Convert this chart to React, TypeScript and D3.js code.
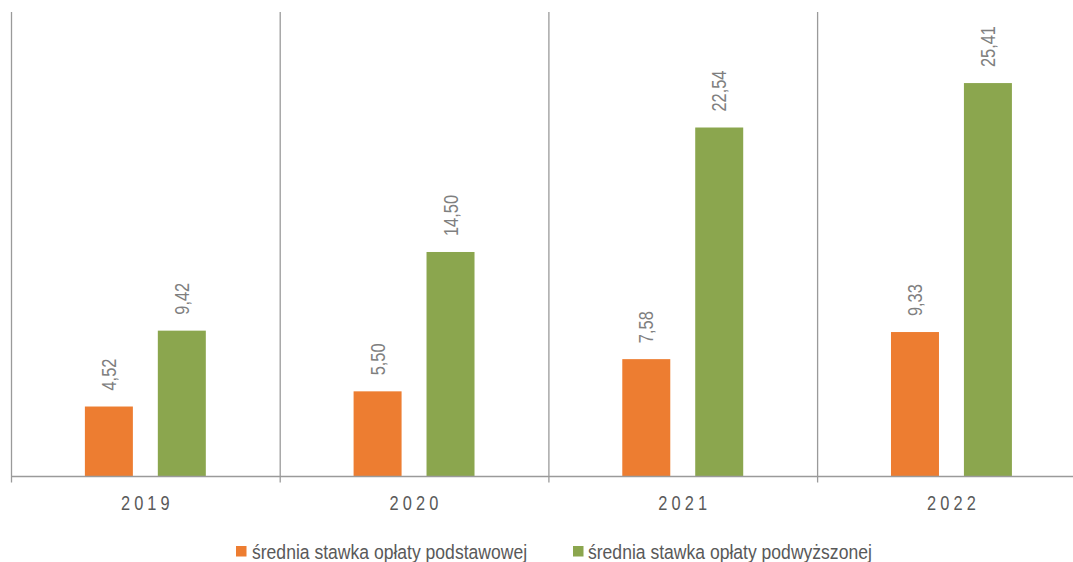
import React from "react";
import * as d3 from "d3";

const years = ["2019", "2020", "2021", "2022"];
const seriesNames = [
  "średnia stawka opłaty podstawowej",
  "średnia stawka opłaty podwyższonej",
];
const basicRate = [4.52, 5.5, 7.58, 9.33];
const raisedRate = [9.42, 14.5, 22.54, 25.41];
const seriesColors = ["#ED7D31", "#8BA64E"];

const W = 1073;
const H = 562;
const FONT = "'Liberation Sans', Arial, sans-serif";
// horizontal compression giving a condensed look to the sans face
const NARROW = 0.82;

const fmt = (v: number) => v.toFixed(2).replace(".", ",");

export default function App() {
  const x0 = d3.scaleBand<string>().domain(years).range([11, 11 + 4 * 268.7]);
  const x1 = d3
    .scaleBand<number>()
    .domain([0, 1])
    .range([0, x0.bandwidth()])
    .paddingInner(0.342)
    .paddingOuter(1.013);
  const y = d3.scaleLinear().domain([0, 30]).range([476.5, 12]);
  const values = [basicRate, raisedRate];
  const base = y(0);

  const legendItems = [
    { sx: 236, tx: 252 },
    { sx: 573, tx: 588 },
  ];

  return (
    <div style={{ position: "absolute", left: 0, top: 0 }}>
      <svg width={W} height={H} style={{ display: "block" }}>
        <rect width={W} height={H} fill="#fff" />
        {/* category separators */}
        {years.map((yr) => (
          <line
            key={"sep" + yr}
            x1={x0(yr)! + 0.5}
            x2={x0(yr)! + 0.5}
            y1={y(30)}
            y2={base + 6}
            stroke="#9a9a9a"
            strokeWidth={1.3}
          />
        ))}
        {/* bars */}
        {years.map((yr, i) =>
          values.map((vals, s) => {
            const bx = x0(yr)! + x1(s)!;
            return (
              <rect
                key={yr + s}
                x={bx}
                y={y(vals[i])}
                width={x1.bandwidth()}
                height={base - y(vals[i])}
                fill={seriesColors[s]}
              />
            );
          })
        )}
        {/* value labels */}
        {years.map((yr, i) =>
          values.map((vals, s) => {
            const cx = x0(yr)! + x1(s)! + x1.bandwidth() / 2;
            const ty = y(vals[i]) - 16;
            return (
              <text
                key={"l" + yr + s}
                transform={`translate(${cx + 7},${ty}) rotate(-90) scale(${NARROW},1)`}
                fontFamily={FONT}
                fontSize={20}
                fill="#7f7f7f"
              >
                {fmt(vals[i])}
              </text>
            );
          })
        )}
        {/* baseline */}
        <line x1={11} x2={W} y1={base} y2={base} stroke="#9a9a9a" strokeWidth={1.3} />
        {/* year labels */}
        {years.map((yr) => (
          <text
            key={"y" + yr}
            transform={`translate(${x0(yr)! + x0.bandwidth() / 2 + 2},510) scale(${NARROW},1)`}
            textAnchor="middle"
            fontFamily={FONT}
            fontSize={20}
            letterSpacing={5}
            fill="#595959"
          >
            {yr}
          </text>
        ))}
        {/* legend */}
        {seriesNames.map((name, s) => (
          <g key={"lg" + s}>
            <rect
              x={legendItems[s].sx}
              y={546}
              width={10.5}
              height={10.5}
              fill={seriesColors[s]}
            />
            <text
              transform={`translate(${legendItems[s].tx},558.5) scale(0.9,1)`}
              fontFamily={FONT}
              fontSize={19.5}
              fill="#595959"
            >
              {name}
            </text>
          </g>
        ))}
      </svg>
    </div>
  );
}
